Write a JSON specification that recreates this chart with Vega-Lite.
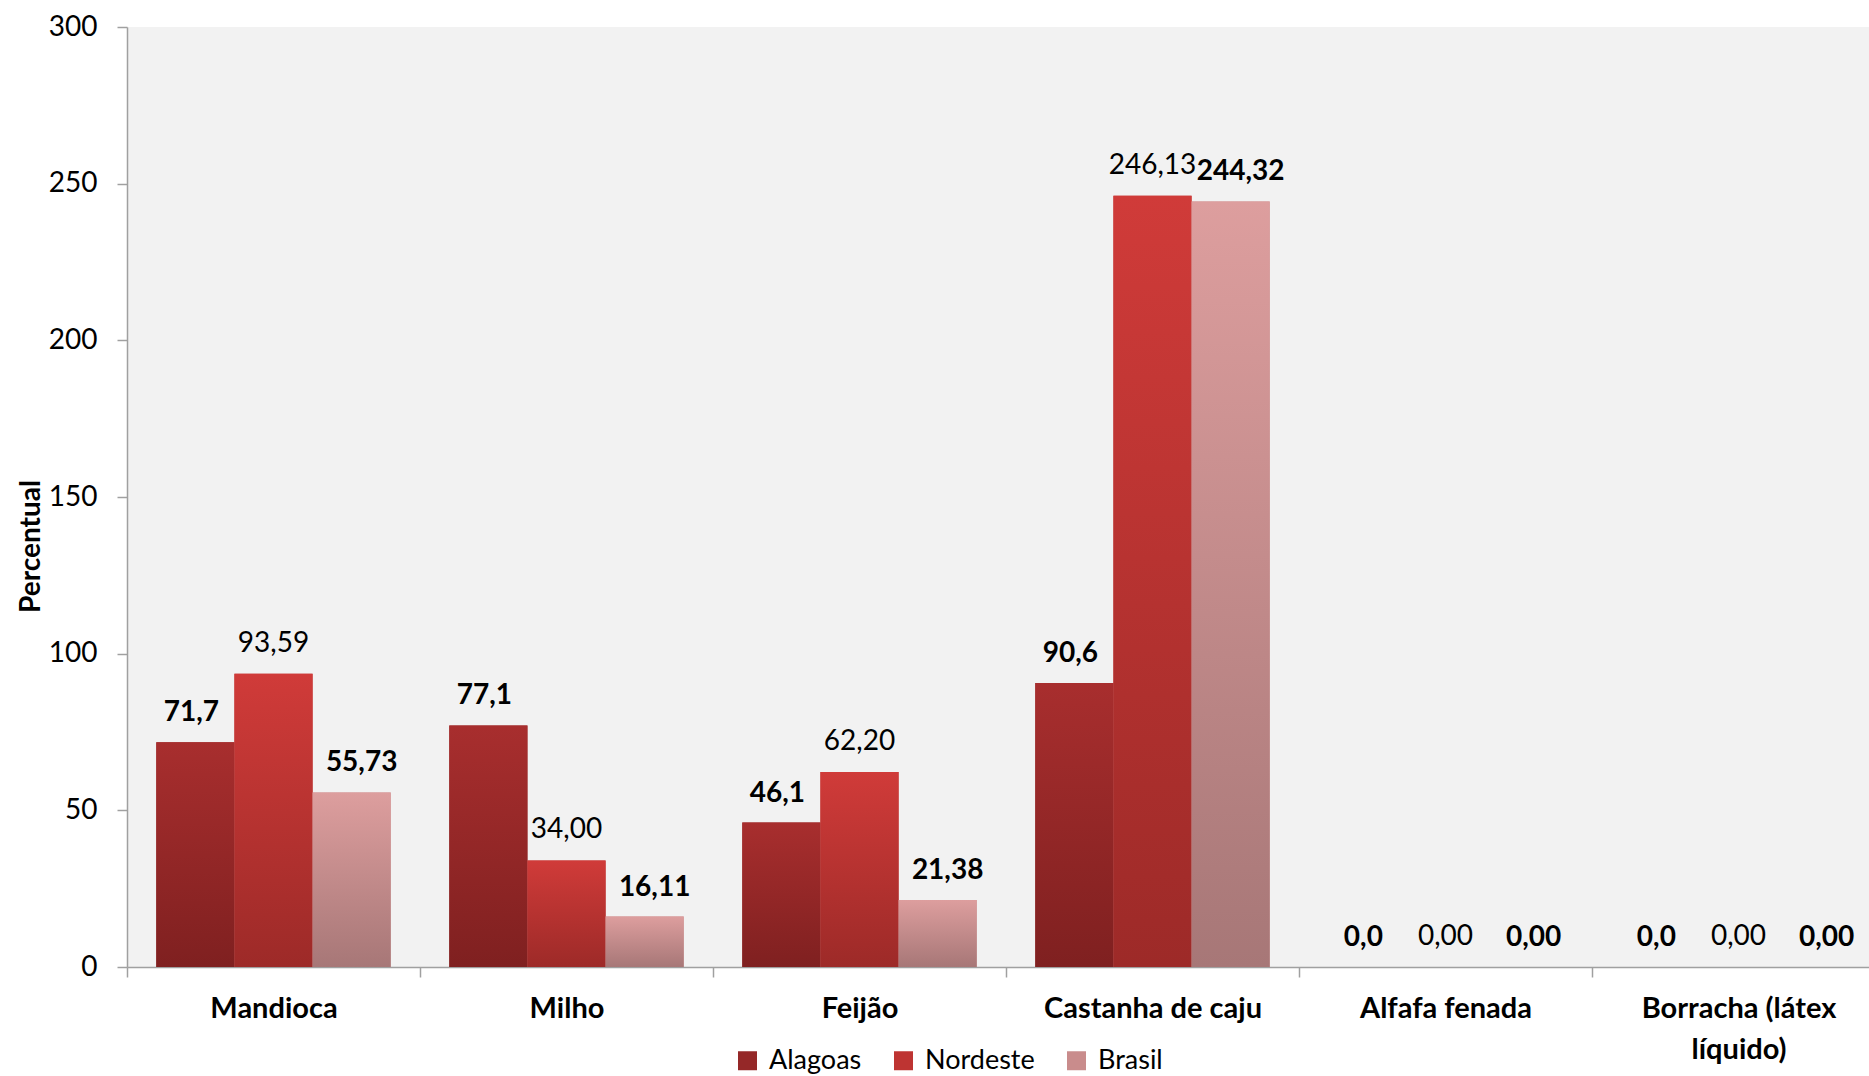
{
  "$schema": "https://vega.github.io/schema/vega-lite/v6.json",
  "width": 1758,
  "height": 940,
  "autosize": "none",
  "padding": {"left": 127, "top": 27, "right": 0, "bottom": 109},
  "background": "white",
  "config": {
    "view": {"fill": "#F2F2F2", "stroke": null},
    "font": "Lato",
    "locale": {"number": {"decimal": ",", "thousands": ".", "grouping": [3], "currency": ["R$ ", ""]}}
  },
  "data": {
    "values": [
      {"cultura": "Mandioca", "serie": "Alagoas", "valor": 71.7},
      {"cultura": "Mandioca", "serie": "Nordeste", "valor": 93.59},
      {"cultura": "Mandioca", "serie": "Brasil", "valor": 55.73},
      {"cultura": "Milho", "serie": "Alagoas", "valor": 77.1},
      {"cultura": "Milho", "serie": "Nordeste", "valor": 34.0},
      {"cultura": "Milho", "serie": "Brasil", "valor": 16.11},
      {"cultura": "Feijão", "serie": "Alagoas", "valor": 46.1},
      {"cultura": "Feijão", "serie": "Nordeste", "valor": 62.2},
      {"cultura": "Feijão", "serie": "Brasil", "valor": 21.38},
      {"cultura": "Castanha de caju", "serie": "Alagoas", "valor": 90.6},
      {"cultura": "Castanha de caju", "serie": "Nordeste", "valor": 246.13},
      {"cultura": "Castanha de caju", "serie": "Brasil", "valor": 244.32},
      {"cultura": "Alfafa fenada", "serie": "Alagoas", "valor": 0.0},
      {"cultura": "Alfafa fenada", "serie": "Nordeste", "valor": 0.0},
      {"cultura": "Alfafa fenada", "serie": "Brasil", "valor": 0.0},
      {"cultura": "Borracha (látex líquido)", "serie": "Alagoas", "valor": 0.0},
      {"cultura": "Borracha (látex líquido)", "serie": "Nordeste", "valor": 0.0},
      {"cultura": "Borracha (látex líquido)", "serie": "Brasil", "valor": 0.0}
    ]
  },
  "encoding": {
    "x": {
      "field": "cultura",
      "type": "nominal",
      "sort": ["Mandioca", "Milho", "Feijão", "Castanha de caju", "Alfafa fenada", "Borracha (látex líquido)"],
      "scale": {"paddingInner": 0, "paddingOuter": 0},
      "axis": {
        "title": null,
        "labelAngle": 0,
        "labelFont": "Lato",
        "labelFontSize": 29,
        "labelFontWeight": "bold",
        "labelColor": "#000000",
        "labelPadding": 17,
        "labelLineHeight": 41,
        "labelLimit": 400,
        "labelExpr": "datum.value == 'Borracha (látex líquido)' ? ['Borracha (látex', 'líquido)'] : datum.value",
        "tickBand": "extent",
        "tickSize": 10,
        "tickColor": "#A0A0A0",
        "domainColor": "#A0A0A0",
        "tickWidth": 1.5,
        "domainWidth": 1.5
      }
    },
    "xOffset": {
      "field": "serie",
      "type": "nominal",
      "scale": {"domain": ["Alagoas", "Nordeste", "Brasil"], "paddingInner": 0, "paddingOuter": 0.375}
    },
    "y": {
      "field": "valor",
      "type": "quantitative",
      "scale": {"domain": [0, 300], "nice": false},
      "axis": {
        "title": "Percentual",
        "titleFont": "Lato",
        "titleFontSize": 28,
        "titleFontWeight": "bold",
        "titleColor": "#000000",
        "titleX": -96,
        "titleY": 519,
        "titleAngle": -90,
        "titleAlign": "center",
        "titleBaseline": "middle",
        "values": [0, 50, 100, 150, 200, 250, 300],
        "labelFont": "Lato",
        "labelFontSize": 28,
        "labelColor": "#000000",
        "labelPadding": 20,
        "grid": false,
        "tickSize": 10,
        "tickColor": "#A0A0A0",
        "domainColor": "#A0A0A0",
        "tickWidth": 1.5,
        "domainWidth": 1.5
      }
    }
  },
  "layer": [
    {
      "mark": {"type": "bar"},
      "encoding": {
        "color": {
          "field": "serie",
          "type": "nominal",
          "scale": {"domain": ["Alagoas", "Nordeste", "Brasil"], "range": ["#952828", "#BE3432", "#C98C8C"]},
          "legend": {
            "title": null,
            "orient": "none",
            "direction": "horizontal",
            "legendX": 607,
            "legendY": 1020,
            "symbolType": "square",
            "symbolSize": 361,
            "symbolStrokeWidth": 0,
            "labelFont": "Lato",
            "labelFontSize": 27,
            "labelColor": "#000000",
            "labelOffset": 8,
            "columnPadding": 28
          }
        }
      }
    },
    {
      "transform": [{"filter": "datum.serie == 'Alagoas'"}],
      "mark": {
        "type": "bar",
        "color": {"gradient": "linear", "x1": 0, "y1": 0, "x2": 0, "y2": 1, "stops": [{"offset": 0, "color": "#A82E2E"}, {"offset": 1, "color": "#7F2020"}]}
      }
    },
    {
      "transform": [{"filter": "datum.serie == 'Nordeste'"}],
      "mark": {
        "type": "bar",
        "color": {"gradient": "linear", "x1": 0, "y1": 0, "x2": 0, "y2": 1, "stops": [{"offset": 0, "color": "#D03B39"}, {"offset": 1, "color": "#9D2A28"}]}
      }
    },
    {
      "transform": [{"filter": "datum.serie == 'Brasil'"}],
      "mark": {
        "type": "bar",
        "color": {"gradient": "linear", "x1": 0, "y1": 0, "x2": 0, "y2": 1, "stops": [{"offset": 0, "color": "#DD9E9E"}, {"offset": 1, "color": "#A77777"}]}
      }
    },
    {
      "transform": [{"filter": "datum.serie == 'Alagoas'"}],
      "mark": {"type": "text", "font": "Lato", "fontSize": 28, "fontWeight": "bold", "color": "#000000", "align": "center", "baseline": "alphabetic", "dy": -21, "dx": -4},
      "encoding": {"text": {"field": "valor", "type": "quantitative", "format": ".1f"}}
    },
    {
      "transform": [{"filter": "datum.serie == 'Nordeste'"}],
      "mark": {"type": "text", "font": "Lato", "fontSize": 28, "fontWeight": "normal", "color": "#000000", "align": "center", "baseline": "alphabetic", "dy": -22},
      "encoding": {"text": {"field": "valor", "type": "quantitative", "format": ".2f"}}
    },
    {
      "transform": [{"filter": "datum.serie == 'Brasil'"}],
      "mark": {"type": "text", "font": "Lato", "fontSize": 28, "fontWeight": "bold", "color": "#000000", "align": "center", "baseline": "alphabetic", "dy": -21, "dx": 10},
      "encoding": {"text": {"field": "valor", "type": "quantitative", "format": ".2f"}}
    }
  ]
}
